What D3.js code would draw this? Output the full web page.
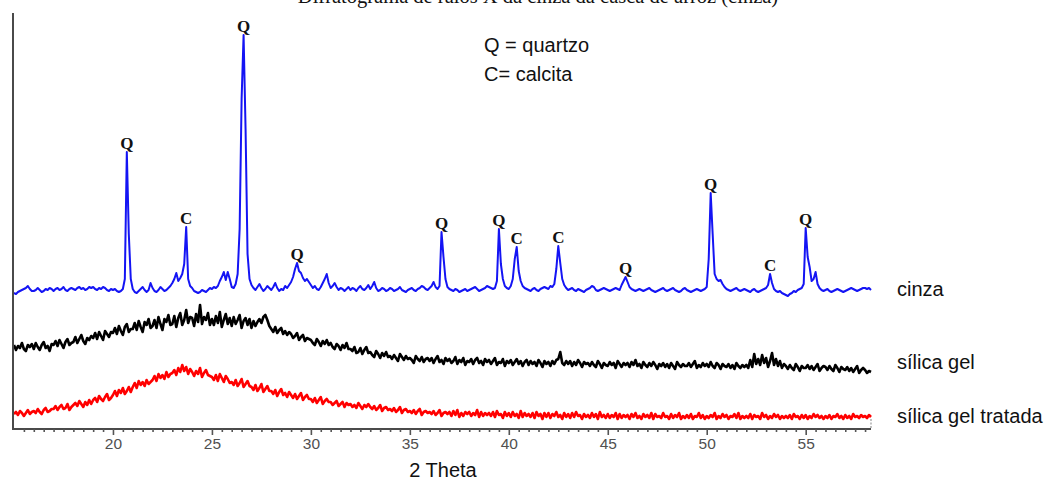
<!DOCTYPE html>
<html>
<head>
<meta charset="utf-8">
<script src="https://cdn.jsdelivr.net/npm/d3@7"></script>
<style>
  html, body { margin: 0; padding: 0; background: #fff; }
  svg { display: block; }
</style>
</head>
<body>
<svg id="chart" width="1053" height="481"></svg>
<script>
// 2θ grid of the diffractograms (degrees)
const twoThetaStart = 15.0;
const twoThetaStep = 0.1;
const axisMax = 58.3;

// Intensities (a.u., vertically offset per sample), one value per 0.1° from 15.0° to 58.3°
const cinza = [
  136,135,137,138,139,140,141,143,140,138,
  138,139,141,139,137,138,140,139,141,140,
  138,140,141,139,140,142,139,138,140,141,
  140,139,141,142,140,141,139,140,142,141,
  142,140,139,141,140,142,141,139,138,140,
  139,140,138,137,138,140,150,277,195,150,
  140,137,136,138,140,142,139,137,139,146,
  141,138,137,139,142,140,138,139,141,143,
  146,150,156,148,151,155,165,202,150,143,
  141,138,137,136,137,139,138,137,139,141,
  140,142,141,143,148,152,157,149,157,150,
  142,141,145,155,200,330,394,300,175,150,
  144,141,139,142,145,141,138,140,143,141,
  139,142,146,141,138,140,139,143,141,144,
  147,152,160,166,158,156,151,148,150,147,
  144,141,143,140,139,142,146,150,155,146,
  141,143,146,142,139,141,140,138,140,142,
  139,141,140,138,141,143,140,139,141,144,
  140,143,147,141,138,139,141,140,138,139,
  141,140,138,139,140,142,139,138,137,139,
  140,141,139,138,140,141,143,142,140,139,
  141,143,147,142,140,143,197,172,150,142,
  140,139,138,140,139,137,138,139,140,138,
  139,140,141,142,140,138,139,140,141,143,
  142,141,140,141,148,200,165,150,143,141,
  140,143,150,170,182,158,148,143,141,140,
  139,138,140,141,139,138,140,141,142,141,
  140,143,142,145,160,183,166,150,144,141,
  139,140,141,139,138,140,139,138,137,139,
  140,141,143,142,139,138,139,140,141,140,
  139,138,139,140,141,140,139,144,148,152,
  147,142,140,139,138,139,140,139,138,139,
  140,141,139,138,137,138,139,140,141,139,
  138,139,140,141,139,138,137,138,140,141,
  139,138,137,138,139,140,139,138,139,140,
  142,170,236,195,155,150,148,149,145,142,
  140,139,138,139,140,141,139,138,139,140,
  139,138,137,139,140,138,137,138,139,140,
  141,144,155,146,140,138,137,138,136,135,
  134,133,135,136,138,137,139,140,141,145,
  201,172,162,148,150,157,145,141,139,138,
  139,140,138,137,138,139,140,139,138,137,
  138,139,140,141,140,139,138,139,140,141,
  141,140,141,139
];

const silicaGel = [
  84,79,83,81,86,80,78,84,82,85,
  80,86,82,79,84,87,81,83,78,85,
  84,88,83,89,85,81,87,90,84,86,
  87,92,86,90,94,88,85,91,89,93,
  91,96,90,97,93,89,98,95,92,97,
  96,101,95,103,98,94,102,105,97,100,
  100,106,99,108,102,97,107,104,110,101,
  103,109,101,112,105,99,110,107,114,104,
  105,113,102,111,116,104,109,119,106,112,
  111,103,115,107,124,105,112,109,116,104,
  110,104,113,106,117,102,109,115,105,111,
  103,112,105,109,114,101,108,111,104,110,
  101,108,103,107,110,106,112,114,109,103,
  100,97,102,96,99,101,95,98,94,97,
  95,91,93,96,89,92,94,88,91,90,
  89,86,84,90,87,83,88,85,89,84,
  86,82,80,85,83,79,84,81,86,80,
  80,78,82,76,77,81,75,79,82,76,
  77,74,72,78,75,71,76,73,77,72,
  73,70,74,71,68,75,72,69,73,70,
  71,69,66,73,70,68,72,67,70,71,
  68,71,66,70,73,67,69,65,71,68,
  70,66,68,72,65,69,67,71,64,68,
  67,70,65,69,71,66,68,64,70,67,
  69,65,68,71,64,67,66,70,63,68,
  66,69,64,67,70,65,68,63,67,69,
  64,68,65,67,63,69,66,62,68,65,
  67,63,68,65,69,70,77,66,64,68,
  65,68,63,67,64,69,66,62,67,65,
  66,63,67,64,62,68,65,61,66,64,
  63,67,64,66,61,68,65,62,66,64,
  66,62,67,64,69,63,65,61,67,64,
  62,66,63,67,64,60,65,63,66,62,
  65,61,66,63,60,67,64,62,65,63,
  63,66,62,65,68,61,64,62,66,63,
  65,62,67,63,61,66,64,60,65,63,
  62,65,61,64,60,66,63,61,64,62,
  64,61,69,62,75,65,70,64,74,66,
  71,62,68,76,64,70,63,68,61,65,
  63,60,64,61,59,65,62,58,63,61,
  61,64,60,63,59,62,65,58,61,63,
  62,59,63,60,58,64,61,57,62,60,
  59,62,58,61,57,60,63,56,59,61,
  59,56,58,57
];

const silicaGelTratada = [
  15,17,14,18,16,13,16,19,15,17,
  18,16,20,17,15,19,21,17,18,20,
  20,23,19,22,24,20,21,25,19,22,
  24,26,23,28,25,22,27,24,29,25,
  29,31,27,33,30,28,32,35,29,31,
  34,38,33,39,36,41,35,38,42,37,
  42,46,41,48,44,47,43,49,45,47,
  49,53,48,55,51,54,50,57,52,55,
  56,59,54,61,57,64,58,62,55,60,
  57,53,58,55,61,52,56,59,54,53,
  52,49,54,48,55,51,47,53,50,46,
  47,44,49,43,46,50,42,45,48,43,
  42,39,44,38,41,45,37,40,43,38,
  38,35,39,33,37,40,34,36,32,37,
  34,31,35,30,33,36,29,32,34,30,
  30,27,31,26,29,32,25,28,30,27,
  27,24,26,28,23,25,27,22,26,24,
  25,22,24,21,26,23,20,24,22,25,
  22,20,23,19,21,24,18,21,22,19,
  20,18,21,17,19,22,16,19,20,17,
  18,16,19,15,18,20,14,17,18,16,
  17,15,18,14,16,19,13,16,17,15,
  17,13,18,14,19,12,16,13,17,15,
  17,13,16,14,19,12,17,13,16,14,
  16,13,17,12,18,14,15,11,17,13,
  16,12,17,13,15,11,18,12,16,13,
  15,12,16,11,17,13,15,10,16,12,
  16,11,15,13,17,12,14,10,16,12,
  15,11,16,12,17,13,14,10,15,12,
  14,11,16,12,15,10,17,12,14,11,
  15,11,14,12,16,10,15,11,14,12,
  14,10,15,12,16,11,13,10,15,12,
  14,11,16,10,15,12,13,11,16,12,
  13,10,15,11,14,12,16,10,13,11,
  14,11,15,10,13,12,16,11,14,10,
  13,11,14,12,16,10,13,11,15,12,
  14,10,13,12,15,11,16,10,13,11,
  13,11,15,10,14,12,13,10,16,12,
  14,10,13,11,15,12,14,10,13,11,
  13,11,14,10,15,12,13,10,14,11,
  14,10,13,11,15,12,14,11,13,10,
  13,11,14,10,13,12,15,11,13,10,
  14,11,13,10,15,12,13,11,14,12,
  13,11,14,12
];

const seriesNames = ["cinza", "sílica gel", "sílica gel tratada"];
const seriesColors = ["#1414f4", "#000000", "#ff0000"];
const seriesData = [cinza, silicaGel, silicaGelTratada];
const seriesLabelY = [139, 66, 12];

// Phase assignments written above the cinza reflections
const peakAngles = [20.7, 23.7, 26.6, 29.3, 36.6, 39.5, 40.4, 42.5, 45.9, 50.2, 53.2, 55.0];
const peakPhases = ["Q", "C", "Q", "Q", "Q", "Q", "C", "C", "Q", "Q", "C", "Q"];

const xMajorTicks = [20, 25, 30, 35, 40, 45, 50, 55];

const legendLines = ["Q = quartzo", "C= calcita"];
const titleText = "Difratograma de raios X da cinza da casca de arroz (cinza)";
const xTitle = "2 Theta";

const svg = d3.select("#chart");
const W = 1053, H = 481;
svg.append("rect").attr("width", W).attr("height", H).attr("fill", "#fff");

const x = d3.scaleLinear().domain([twoThetaStart, axisMax]).range([14, 871]);
const y = d3.scaleLinear().domain([0, 416]).range([429, 13]);

const angleAt = i => twoThetaStart + i * twoThetaStep;

// title, running off the top edge of the frame
svg.append("text")
  .attr("x", 538).attr("y", 3)
  .attr("text-anchor", "middle")
  .attr("font-family", "Liberation Serif, Times New Roman, serif")
  .attr("font-size", 20.5)
  .attr("fill", "#111")
  .text(titleText);

// traces
const line = d3.line()
  .x((d, i) => x(angleAt(i)))
  .y(d => y(d));

const traces = svg.append("g").attr("class", "traces");
seriesData.forEach((arr, k) => {
  traces.append("path")
    .datum(arr)
    .attr("fill", "none")
    .attr("stroke", seriesColors[k])
    .attr("stroke-width", k === 0 ? 2 : 2.6)
    .attr("stroke-linejoin", "round")
    .attr("d", line);
});

// x axis with 0.5° minor ticks
const xAxis = d3.axisBottom(x)
  .tickValues(d3.range(15.5, 58.01, 0.5))
  .tickSize(3)
  .tickFormat(v => xMajorTicks.includes(v) ? String(v) : "");

const gx = svg.append("g")
  .attr("transform", "translate(0,429)")
  .call(xAxis);
gx.select(".domain").attr("stroke", "#4a4a4a").attr("stroke-width", 2)
  .attr("d", `M${x(twoThetaStart)},0H${x(axisMax)}`);
gx.selectAll(".tick line")
  .attr("stroke", "#555")
  .attr("stroke-width", 1.6)
  .attr("y2", d => xMajorTicks.includes(d) ? 6 : 3);
gx.selectAll(".tick text")
  .attr("y", 9)
  .attr("font-family", "Liberation Sans, Arial, sans-serif")
  .attr("font-size", 15.5)
  .attr("fill", "#505050");

// y axis line (no labels)
svg.append("line")
  .attr("x1", 13).attr("x2", 13)
  .attr("y1", 13).attr("y2", 430)
  .attr("stroke", "#4a4a4a").attr("stroke-width", 2);

// right-end stub
svg.append("line")
  .attr("x1", x(axisMax)).attr("x2", x(axisMax))
  .attr("y1", 419).attr("y2", 429)
  .attr("stroke", "#999").attr("stroke-width", 1.2)
  .attr("stroke-dasharray", "2,1.5");

// x axis title
svg.append("text")
  .attr("x", 443).attr("y", 477)
  .attr("text-anchor", "middle")
  .attr("font-family", "Liberation Sans, Arial, sans-serif")
  .attr("font-size", 20)
  .attr("fill", "#111")
  .text(xTitle);

// peak phase labels
const peakG = svg.append("g");
peakAngles.forEach((a, j) => {
  const idx = Math.round((a - twoThetaStart) / twoThetaStep);
  peakG.append("text")
    .attr("x", x(a))
    .attr("y", y(cinza[idx]) - 3)
    .attr("text-anchor", "middle")
    .attr("font-family", "Liberation Serif, Times New Roman, serif")
    .attr("font-weight", "bold")
    .attr("font-size", 17)
    .attr("fill", "#111")
    .text(peakPhases[j]);
});

// phase key
legendLines.forEach((t, j) => {
  svg.append("text")
    .attr("x", 484).attr("y", 52 + j * 29)
    .attr("font-family", "Liberation Sans, Arial, sans-serif")
    .attr("font-size", 20)
    .attr("fill", "#111")
    .text(t);
});

// sample names at the right end of each trace
seriesNames.forEach((n, k) => {
  svg.append("text")
    .attr("x", 897).attr("y", y(seriesLabelY[k]) + 6)
    .attr("font-family", "Liberation Sans, Arial, sans-serif")
    .attr("font-size", 20)
    .attr("fill", "#111")
    .text(n);
});
</script>
</body>
</html>
